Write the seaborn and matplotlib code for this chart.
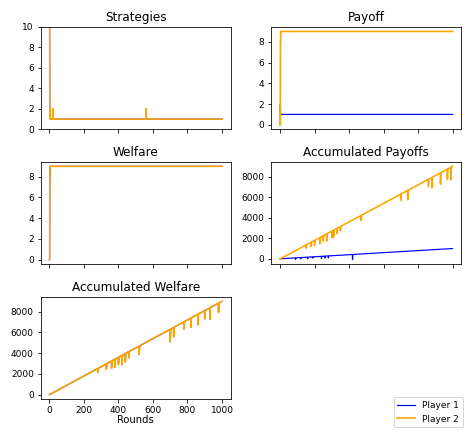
import numpy as np
import matplotlib
matplotlib.use("Agg")
import matplotlib.pyplot as plt
import seaborn as sns

rounds = np.arange(0, 1001)
strat_base = 1
strat_events = {0: 10, 1: 10, 2: 2, 3: 2, 4: 2, 20: 2, 21: 2, 560: 2}
pay1_base = 1
pay1_events = {0: 0, 1: 0, 2: 2}
pay2_base = 9
pay2_events = {0: 0, 1: 0, 2: 8, 3: 8}
accp1_dips = [(90, 150), (120, 120), (160, 150), (190, 120), (240, 200), (260, 180), (280, 200), (420, 500)]
accp2_dips = [(150, 300), (180, 400), (200, 500), (230, 600), (250, 500), (270, 700), (300, 600),
              (310, 700), (330, 500), (350, 400), (470, 500), (700, 600), (740, 900),
              (860, 700), (880, 1000), (930, 1100), (970, 1000), (990, 1200)]
accw_dips = [(280, 400), (330, 500), (360, 700), (380, 800), (400, 700), (420, 900), (440, 800),
             (460, 600), (520, 800), (700, 1200), (720, 900), (780, 700), (820, 900),
             (860, 1000), (900, 800), (930, 1100), (980, 900)]

def series(base, events):
    s = np.full(len(rounds), base, dtype=float)
    for k, v in events.items():
        s[k] = v
    return s

def apply_dips(s, dips):
    s = s.copy()
    for r, d in dips:
        s[r] -= d
        s[r + 1] -= d * 0.6
    return s

strat = series(strat_base, strat_events)
p1 = series(pay1_base, pay1_events)
p2 = series(pay2_base, pay2_events)
acc1 = apply_dips(np.cumsum(p1), accp1_dips)
acc2 = apply_dips(np.cumsum(p2), accp2_dips)
accw = apply_dips(np.cumsum(p2), accw_dips)

plt.rcParams['font.family'] = ['DejaVu Sans']
fig, axes = plt.subplots(3, 2, figsize=(472/72, 436/72), dpi=72, sharex=True)
b, o = "blue", "orange"
def plot(ax, y1, y2, title):
    sns.lineplot(x=rounds, y=y1, ax=ax, color=b, label="Player 1", legend=False, linewidth=1.2)
    sns.lineplot(x=rounds, y=y2, ax=ax, color=o, label="Player 2", legend=False, linewidth=1.6)
    ax.set_title(title, fontsize=12)
    ax.set_xlabel("Rounds", labelpad=-2)
    ax.tick_params(labelsize=9)

plot(axes[0, 0], strat, strat, "Strategies")
axes[0, 0].set_ylim(0, 10)
plot(axes[0, 1], p1, p2, "Payoff")
plot(axes[1, 0], p2, p2, "Welfare")
plot(axes[1, 1], acc1, acc2, "Accumulated Payoffs")
plot(axes[2, 0], accw, accw, "Accumulated Welfare")
axes[2, 0].set_xlabel("Rounds", labelpad=0)
axes[2, 1].axis("off")
h, l = axes[0, 1].get_legend_handles_labels()
fig.legend(h, l, loc="lower right", bbox_to_anchor=(0.99, 0.01), fontsize=9)
fig.tight_layout()
fig.savefig("out.png", dpi=72)
